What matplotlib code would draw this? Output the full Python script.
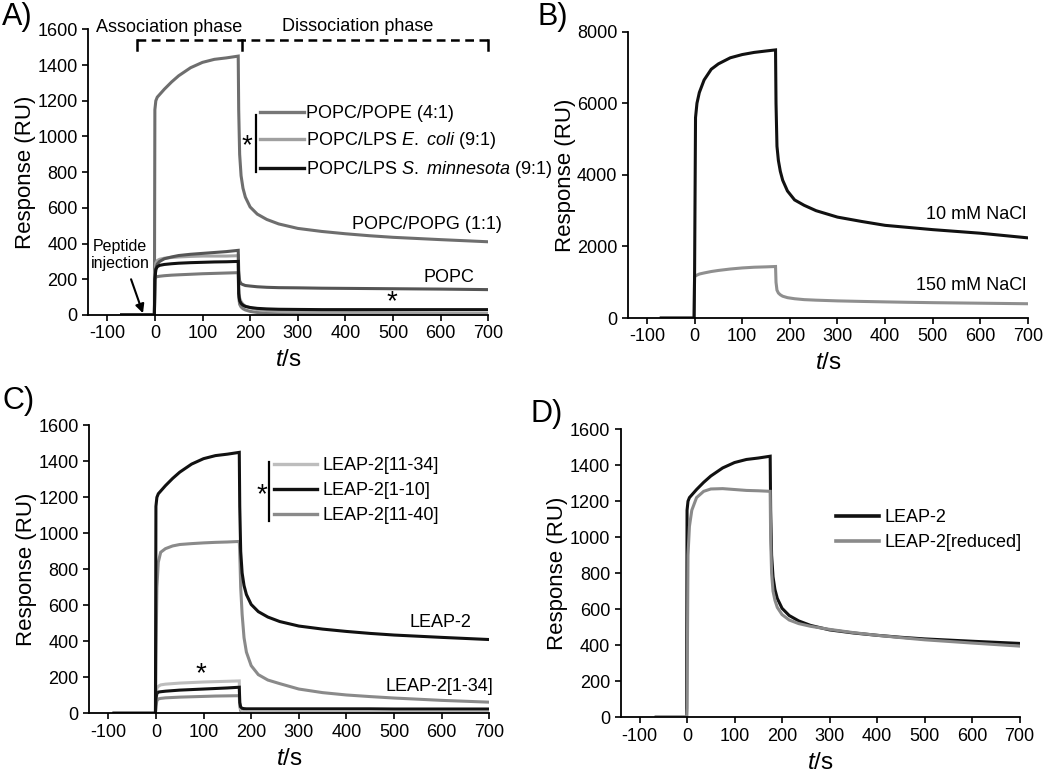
import matplotlib
matplotlib.use("Agg")
import matplotlib.pyplot as plt
import numpy as np

plt.rcParams['font.family'] = ['Liberation Sans', 'DejaVu Sans']
plt.rcParams['mathtext.fontset'] = 'custom'
plt.rcParams['mathtext.rm'] = 'Liberation Sans'
plt.rcParams['mathtext.it'] = 'Liberation Sans:italic'

# ---------------- data ----------------
# common time grid (s) for panels A, C, D (dissociation starts at ~175 s)
t_grid = [-1, 0, 2, 5, 10, 20, 35, 50, 75, 100, 125, 150, 175, 176, 178, 181, 185,
          190, 200, 215, 235, 260, 300, 350, 400, 450, 500, 600, 700]
# LEAP-2 on POPC/POPG (1:1), 150 mM NaCl
leap2 = [0, 1150, 1200, 1220, 1235, 1265, 1305, 1340, 1385, 1415, 1432, 1440, 1450, 1150, 900,
         780, 710, 660, 605, 565, 535, 510, 485, 468, 455, 444, 435, 422, 410]
# Panel A lipid compositions
popc = [0, 200, 260, 285, 300, 315, 325, 333, 340, 345, 350, 355, 362, 250, 190,
        175, 170, 165, 162, 158, 155, 153, 152, 150, 149, 148, 147, 145, 142]
popc_ecoli = [0, 220, 290, 305, 312, 318, 322, 325, 328, 330, 330, 330, 332, 150, 95,
              75, 60, 50, 40, 30, 25, 20, 17, 15, 14, 13, 12, 10, 9]
popc_smin = [0, 200, 255, 270, 278, 283, 287, 290, 293, 295, 297, 298, 300, 120, 80,
             65, 55, 48, 42, 37, 34, 32, 31, 30, 30, 30, 30, 30, 30]
popc_pope = [0, 200, 212, 215, 217, 220, 223, 225, 228, 231, 233, 235, 237, 100, 60,
             45, 35, 28, 20, 14, 10, 8, 6, 5, 4, 4, 3, 3, 2]
# Panel C peptide fragments
leap2_1_34 = [0, 300, 700, 840, 895, 915, 930, 938, 943, 947, 950, 952, 955, 900, 700,
              550, 420, 340, 265, 215, 185, 165, 135, 115, 102, 93, 85, 72, 62]
leap2_11_34 = [0, 100, 140, 150, 158, 162, 165, 168, 171, 174, 176, 178, 180, 60, 25,
               12, 8, 5, 4, 4, 4, 3, 3, 3, 3, 3, 3, 3, 3]
leap2_1_10 = [0, 80, 110, 118, 120, 123, 126, 129, 132, 135, 138, 141, 145, 60, 35,
              28, 26, 25, 25, 25, 25, 25, 25, 25, 25, 25, 24, 24, 24]
leap2_11_40 = [0, 40, 70, 80, 83, 86, 88, 90, 92, 94, 96, 97, 98, 40, 15,
               8, 5, 4, 3, 3, 3, 3, 3, 3, 3, 3, 3, 3, 3]
# Panel D reduced LEAP-2
leap2_reduced = [0, 50, 900, 1060, 1150, 1220, 1255, 1268, 1270, 1265, 1260, 1258, 1255, 1000, 800,
                 700, 650, 610, 570, 540, 520, 505, 488, 470, 455, 442, 430, 412, 395]

# Panel B time grid (dissociation starts at ~170 s)
t_grid_b = [-1, 0, 2, 5, 10, 20, 35, 50, 75, 100, 125, 150, 170, 171, 173, 176, 180,
            185, 195, 210, 230, 255, 300, 350, 400, 450, 500, 600, 700]
nacl_10 = [0, 1200, 5600, 6000, 6300, 6650, 6950, 7100, 7270, 7360, 7420, 7460, 7490, 6000, 4800,
           4400, 4100, 3850, 3550, 3300, 3150, 3000, 2820, 2700, 2590, 2530, 2470, 2370, 2240]
nacl_150 = [0, 1150, 1180, 1200, 1230, 1260, 1300, 1330, 1370, 1400, 1420, 1430, 1440, 1000, 780,
            700, 650, 610, 570, 540, 515, 500, 480, 465, 452, 440, 430, 415, 400]

baseline_start = {'A': -70, 'B': -70, 'C': -88, 'D': -65}

xticks = [-100, 0, 100, 200, 300, 400, 500, 600, 700]
yticks_small = [0, 200, 400, 600, 800, 1000, 1200, 1400, 1600]
yticks_b = [0, 2000, 4000, 6000, 8000]

# ---------------- figure ----------------
fig = plt.figure(figsize=(10.5, 7.72), dpi=100)
axA = fig.add_axes([0.084, 0.592, 0.381, 0.370])
axB = fig.add_axes([0.598, 0.588, 0.381, 0.371])
axC = fig.add_axes([0.085, 0.076, 0.381, 0.373])
axD = fig.add_axes([0.591, 0.071, 0.380, 0.373])

TICK_FS = 13
LW = 2.2


def style(ax, ymax, yticks):
    for s in ['top', 'right']:
        ax.spines[s].set_visible(False)
    for s in ['left', 'bottom']:
        ax.spines[s].set_linewidth(1.3)
    ax.set_xlim(-140, 700)
    ax.set_ylim(0, ymax)
    ax.set_xticks(xticks)
    ax.set_xticklabels([str(v) for v in xticks])
    ax.set_yticks(yticks)
    ax.tick_params(direction='out', length=4.5, width=1.2, labelsize=TICK_FS, pad=3)
    ax.set_ylabel('Response (RU)', fontsize=16, labelpad=1)
    ax.set_xlabel(r'$\it{t}$/s', fontsize=17.5, labelpad=5)


def line(ax, key, t, y, **kw):
    tt = [baseline_start[key]] + list(t)
    yy = [0] + list(y)
    return ax.plot(tt, yy, lw=LW, solid_joinstyle='miter', **kw)


# ---- Panel A ----
style(axA, 1600, yticks_small)
line(axA, 'A', t_grid, leap2, color='#6e6e6e')
line(axA, 'A', t_grid, popc_pope, color='#7a7a7a')
line(axA, 'A', t_grid, popc_ecoli, color='#a3a3a3')
line(axA, 'A', t_grid, popc, color='#555555')
line(axA, 'A', t_grid, popc_smin, color='#111111')

hA = [plt.Line2D([], [], color='#777777', lw=2.4),
      plt.Line2D([], [], color='#a0a0a0', lw=2.4),
      plt.Line2D([], [], color='#111111', lw=2.4)]
axA.legend(hA, ['POPC/POPE (4:1)', r'POPC/LPS $\it{E.\ coli}$ (9:1)',
                r'POPC/LPS $\it{S.\ minnesota}$ (9:1)'],
           loc='upper left', bbox_to_anchor=(0.43, 0.735), frameon=False,
           fontsize=TICK_FS, handlelength=2.4, handletextpad=0.15,
           labelspacing=0.45, borderpad=0, borderaxespad=0)
axA.plot([213, 213], [800, 1120], color='black', lw=1.6)
axA.text(194, 945, '*', fontsize=20, ha='center', va='center')

# phases bracket
axA.plot([-37, 700], [1540, 1540], color='black', lw=1.8, ls=(0, (3.5, 2.2)), clip_on=False)
for xb in [-37, 182, 700]:
    axA.plot([xb, xb], [1485, 1540], color='black', lw=1.8, clip_on=False)
axA.text(30, 1612, 'Association phase', fontsize=TICK_FS, ha='center', va='center')
axA.text(425, 1615, 'Dissociation phase', fontsize=TICK_FS, ha='center', va='center')

axA.text(728, 504, 'POPC/POPG (1:1)', fontsize=TICK_FS, ha='right', va='center')
axA.text(617, 209, 'POPC', fontsize=TICK_FS, ha='center', va='center')
axA.text(498, 70, '*', fontsize=20, ha='center', va='center')
axA.text(-73, 336, 'Peptide\ninjection', fontsize=11.5, ha='center', va='center',
         linespacing=1.1)
axA.annotate('', xy=(-25, 10), xytext=(-50, 200),
             arrowprops=dict(arrowstyle='-|>', color='black', lw=1.5,
                             shrinkA=0, shrinkB=0, mutation_scale=13))

# ---- Panel B ----
style(axB, 8000, yticks_b)
line(axB, 'B', t_grid_b, nacl_150, color='#8f8f8f')
line(axB, 'B', t_grid_b, nacl_10, color='#111111')
axB.text(696, 2890, '10 mM NaCl', fontsize=TICK_FS, ha='right', va='center')
axB.text(696, 904, '150 mM NaCl', fontsize=TICK_FS, ha='right', va='center')

# ---- Panel C ----
style(axC, 1600, yticks_small)
line(axC, 'C', t_grid, leap2_11_40, color='#8a8a8a')
line(axC, 'C', t_grid, leap2_11_34, color='#bdbdbd')
line(axC, 'C', t_grid, leap2_1_10, color='#111111')
line(axC, 'C', t_grid, leap2_1_34, color='#8a8a8a')
line(axC, 'C', t_grid, leap2, color='#111111')

hC = [plt.Line2D([], [], color='#bdbdbd', lw=2.4),
      plt.Line2D([], [], color='#111111', lw=2.4),
      plt.Line2D([], [], color='#8a8a8a', lw=2.4)]
axC.legend(hC, ['LEAP-2[11-34]', 'LEAP-2[1-10]', 'LEAP-2[11-40]'],
           loc='upper left', bbox_to_anchor=(0.462, 0.89), frameon=False,
           fontsize=TICK_FS, handlelength=2.4, handletextpad=0.3,
           labelspacing=0.45, borderpad=0, borderaxespad=0)
axC.plot([237, 237], [1071, 1395], color='black', lw=1.6)
axC.text(222, 1210, '*', fontsize=20, ha='center', va='center')
axC.text(95, 215, '*', fontsize=20, ha='center', va='center')
axC.text(663, 506, 'LEAP-2', fontsize=TICK_FS, ha='right', va='center')
axC.text(709, 148, 'LEAP-2[1-34]', fontsize=TICK_FS, ha='right', va='center')

# ---- Panel D ----
style(axD, 1600, yticks_small)
line(axD, 'D', t_grid, leap2, color='#111111')
line(axD, 'D', t_grid, leap2_reduced, color='#8a8a8a')
hD = [plt.Line2D([], [], color='#111111', lw=2.6),
      plt.Line2D([], [], color='#8a8a8a', lw=2.6)]
axD.legend(hD, ['LEAP-2', 'LEAP-2[reduced]'],
           loc='upper left', bbox_to_anchor=(0.54, 0.722), frameon=False,
           fontsize=TICK_FS, handlelength=2.4, handletextpad=0.3,
           labelspacing=0.45, borderpad=0, borderaxespad=0)

# panel letters
fig.text(0.002, 0.998, 'A)', fontsize=22, ha='left', va='top')
fig.text(0.512, 0.998, 'B)', fontsize=22, ha='left', va='top')
fig.text(0.002, 0.500, 'C)', fontsize=22, ha='left', va='top')
fig.text(0.505, 0.483, 'D)', fontsize=22, ha='left', va='top')

fig.savefig('out.png', dpi=100)
